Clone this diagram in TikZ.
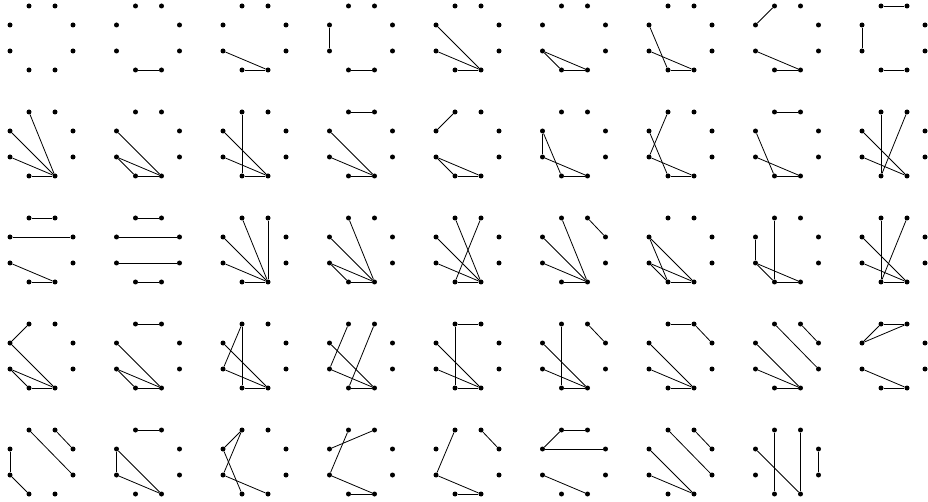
\documentclass[tikz,border=0pt]{standalone}
\begin{document}
\begin{tikzpicture}[x=1pt,y=-1pt,
  dot/.style={circle,fill=black,inner sep=0pt,minimum size=5pt},
  edge/.style={line width=0.8pt,black}]
\useasboundingbox (0,0) rectangle (928,502);
\foreach \i in {0,...,43}{
  \pgfmathtruncatemacro{\col}{mod(\i,9)}
  \pgfmathtruncatemacro{\row}{int(\i/9)}
  \pgfmathsetmacro{\ox}{10+106.5*\col}
  \pgfmathsetmacro{\oy}{6+106*\row}
  \begin{scope}[shift={(\ox,\oy)}]
    \node[dot] (n\i a) at (19,0) {};
    \node[dot] (n\i b) at (45,0) {};
    \node[dot] (n\i c) at (63,19) {};
    \node[dot] (n\i d) at (63,45) {};
    \node[dot] (n\i e) at (45,64) {};
    \node[dot] (n\i f) at (19,64) {};
    \node[dot] (n\i g) at (0,45) {};
    \node[dot] (n\i h) at (0,19) {};
  \end{scope}
}
\foreach \i/\E in {
  1/{f/e},
  2/{f/e,g/e},
  3/{f/e,h/g},
  4/{f/e,h/e,g/e},
  5/{f/e,g/e,g/f},
  6/{f/e,h/f,g/e},
  7/{a/h,g/e,f/e},
  8/{a/b,h/g,f/e},
  9/{f/e,a/e,h/e,g/e},
  10/{f/e,h/e,g/e,g/f},
  11/{f/e,a/f,h/e,g/e},
  12/{a/b,f/e,h/e,g/e},
  13/{a/h,f/e,g/e,g/f},
  14/{h/g,h/f,g/e,f/e},
  15/{a/g,h/f,g/e,f/e},
  16/{a/b,h/f,g/e,f/e},
  17/{a/f,b/f,h/e,g/e},
  18/{a/b,h/c,g/e,f/e},
  19/{a/b,h/c,g/d,f/e},
  20/{a/e,b/e,h/e,g/e,f/e},
  21/{a/e,h/e,g/e,g/f,f/e},
  22/{a/e,b/f,h/e,g/e,f/e},
  23/{a/e,b/c,h/e,g/e,f/e},
  24/{h/f,h/e,g/f,g/e,f/e},
  25/{a/f,h/g,g/f,g/e,f/e},
  26/{a/f,b/f,h/e,g/e,f/e},
  27/{a/h,h/e,g/f,g/e,f/e},
  28/{a/b,h/e,g/f,g/e,f/e},
  29/{a/f,a/g,h/e,g/e,f/e},
  30/{a/g,b/f,h/e,g/e,f/e},
  31/{a/b,a/f,h/e,g/e,f/e},
  32/{a/f,b/c,h/e,g/e,f/e},
  33/{a/b,b/c,h/e,g/e,f/e},
  34/{a/d,b/c,h/e,g/e,f/e},
  35/{a/b,a/h,b/h,g/e,f/e},
  36/{h/g,g/f,a/d,b/c},
  37/{a/b,h/g,h/e,g/e},
  38/{a/g,a/h,h/f,g/e},
  39/{b/h,a/g,g/e,f/e},
  40/{a/g,b/c,g/e,f/e},
  41/{a/b,a/h,h/c,g/e},
  42/{a/d,b/c,h/e,g/e},
  43/{a/f,b/e,h/e,c/d}}{
  \foreach \u/\v in \E { \draw[edge] (n\i\u) -- (n\i\v); }
}
\end{tikzpicture}
\end{document}
